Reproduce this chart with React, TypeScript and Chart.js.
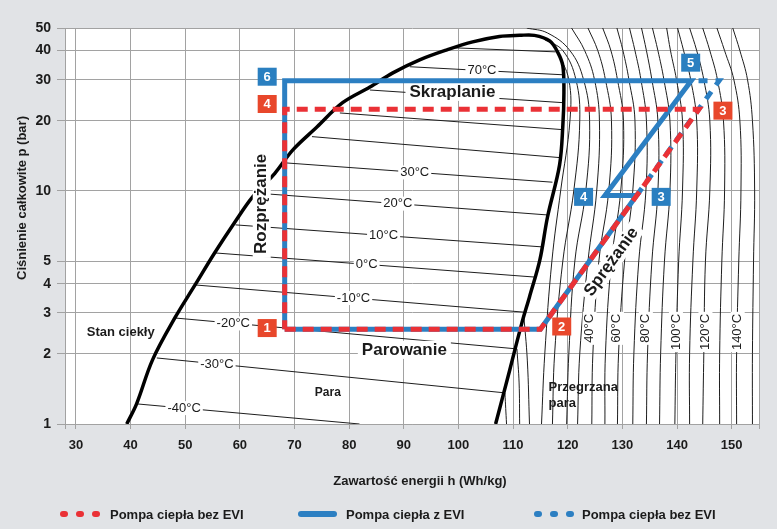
import React, { useEffect, useRef } from 'react';
import { Chart, registerables } from 'chart.js';

Chart.register(...registerables);

const W = 777;
const H = 529;
const FONT = '"Liberation Sans", Arial, Helvetica, sans-serif';
const BG = '#e1e3e6';
const GRID = '#a2a2a2';
const INK = '#1b1b1b';
const RED = '#ea3136';
const BLUE = '#2c7fc2';
const RED_BOX = '#e8472b';
const BLUE_BOX = '#2a7fc0';

// axes
const H_MIN = 28;
const H_MAX = 155;
const H_TICKS = [28, 30, 40, 50, 60, 70, 80, 90, 100, 110, 120, 130, 140, 150, 155];
const P_MIN = 1;
const P_MAX = 50;
const P_TICKS = [1, 2, 3, 4, 5, 10, 20, 30, 40, 50];

// saturation dome (h in Wh/kg, p in bar)
const liquidH = [39.3, 41.1, 44.0, 48.1, 51.8, 55.4, 59.1, 62.3, 66.4, 69.7, 74.1, 78.8, 83.8, 88.0, 92.9, 97.9, 102.6, 107.5];
const liquidP = [1.0, 1.22, 1.88, 2.85, 3.95, 5.43, 7.36, 9.41, 11.9, 15.0, 18.8, 23.9, 27.9, 32.1, 36.5, 40.3, 43.6, 46.0];
const vaporH = [111.2, 113.9, 116.7, 118.2, 119.1, 119.3, 119.1, 118.5, 116.3, 114.9, 113.0, 111.6, 109.4, 106.8];
const vaporP = [46.5, 46.5, 44.0, 39.2, 34.4, 26.4, 19.0, 12.9, 7.73, 5.06, 3.51, 2.71, 1.71, 1.0];

// isotherms across the two-phase region
const isoStartH = [41.1, 44.8, 48.1, 51.8, 55.4, 59.2, 62.7, 68.2, 73.2, 78.3, 83.8, 91.1, 99.3];
const isoStartP = [1.22, 1.92, 2.85, 3.95, 5.42, 7.15, 9.8, 13.2, 17.1, 21.6, 27.1, 34.1, 41.1];
const isoEndH = [81.9, 108.5, 110.7, 111.9, 113.9, 115.4, 116.5, 117.2, 118.5, 119.3, 119.3, 119.1, 117.8];
const isoEndP = [1.0, 1.36, 2.1, 3.02, 4.27, 5.75, 7.88, 10.9, 13.9, 18.3, 23.9, 31.5, 39.5];

// superheated isotherm curves
const ARC_P = [50, 40, 30, 20, 10, 5, 2, 1];
const arcInnerP = [
  [40, 30, 20, 10, 5, 2, 1],
  [44.5, 40, 30, 20, 10, 5, 2, 1],
  [50, 47.6, 40, 30, 20, 10, 5, 2, 1],
];
const arcInnerH = [
  [118.0, 120.2, 120.4, 118.7, 117.1, 115.8, 115.2],
  [115.8, 119.1, 121.5, 122.2, 121.1, 119.1, 117.6, 117.2],
  [112.5, 116.3, 120.4, 122.9, 124.0, 123.3, 121.3, 120.2, 119.8],
];
const arcOuterH = [
  [120.7, 123.1, 124.9, 125.8, 125.3, 123.7, 122.2, 121.8],
  [123.7, 125.5, 126.9, 128.0, 127.5, 125.7, 124.6, 124.4],
  [126.4, 127.9, 129.1, 130.2, 129.7, 128.0, 126.9, 126.8],
  [129.0, 130.1, 131.2, 132.3, 131.9, 130.4, 129.3, 129.1],
  [131.3, 132.3, 133.4, 134.4, 134.3, 133.0, 132.1, 131.9],
  [133.5, 134.4, 135.4, 136.5, 136.5, 135.4, 134.6, 134.4],
  [135.5, 136.5, 137.6, 138.7, 138.7, 137.7, 137.0, 136.8],
  [138.1, 138.8, 139.9, 141.0, 141.0, 140.3, 139.8, 139.6],
  [140.1, 141.2, 142.5, 143.6, 143.6, 142.9, 142.3, 142.3],
  [142.3, 143.6, 144.9, 146.0, 146.0, 145.2, 144.9, 144.7],
  [144.7, 146.0, 147.4, 148.5, 148.7, 148.2, 147.8, 147.8],
  [147.3, 148.7, 150.4, 151.5, 151.7, 151.3, 150.9, 150.9],
  [150.2, 151.5, 152.9, 153.8, 154.2, 154.0, 153.8, 153.8],
];
const shortArcH = [
  [108.5, 108.8],
  [110.7, 111.1, 111.2],
  [111.9, 112.6, 113.0],
];
const shortArcP = [
  [1.36, 1.0],
  [2.1, 1.5, 1.0],
  [3.02, 1.88, 1.0],
];

// heat-pump cycles
const noEviRedH = [68.2, 115.0, 144.0, 68.2, 68.2];
const noEviRedP = [2.55, 2.55, 22.4, 22.4, 2.55];
const eviH = [68.2, 115.0, 132.6, 126.8, 142.6, 68.2, 68.2];
const eviP = [2.55, 2.55, 9.55, 9.55, 29.7, 29.7, 2.55];
const noEviBlueH = [132.6, 147.7, 142.6];
const noEviBlueP = [9.55, 29.7, 29.7];

// numbered state points
const markerText = ['1', '2', '3', '4', '6', '5', '4', '3'];
const markerH = [65.0, 118.9, 148.4, 65.0, 65.0, 142.5, 122.9, 137.1];
const markerP = [2.58, 2.62, 22.1, 23.6, 30.9, 35.5, 9.43, 9.43];
const markerRed = [true, true, true, true, false, false, false, false];

// isotherm labels
const isoLabelText = ['-40°C', '-30°C', '-20°C', '-10°C', '0°C', '10°C', '20°C', '30°C', '70°C'];
const isoLabelH = [49.8, 55.8, 58.8, 80.8, 83.2, 86.3, 88.9, 92.0, 104.3];
const isoLabelP = [1.17, 1.81, 2.7, 3.47, 4.84, 6.44, 8.82, 12.0, 32.8];
const shLabelText = ['40°C', '60°C', '80°C', '100°C', '120°C', '140°C'];
const shLabelH = [124.0, 129.0, 134.3, 139.8, 145.2, 151.1];
const shLabelP = [2.97, 2.97, 2.97, 2.97, 2.97, 2.97];

// process / region labels
const procText = ['Skraplanie', 'Parowanie', 'Rozprężanie', 'Sprężanie'];
const procH = [98.9, 90.1, 64.0, 128.0];
const procP = [26.6, 2.08, 8.8, 4.96];
const procAngle = [0, 0, -90, -54];
const regionText = ['Stan ciekły', 'Para', 'Przegrzana', 'para'];
const regionH = [38.2, 76.1, 116.5, 116.5];
const regionP = [2.46, 1.36, 1.44, 1.23];
const regionSize = [13, 12, 13, 13];
const regionAlign = ['center', 'center', 'left', 'left'];

const legendText = ['Pompa ciepła bez EVI', 'Pompa ciepła z EVI', 'Pompa ciepła bez EVI'];

const xy = (hs: number[], ps: number[]) => hs.map((h, i) => ({ x: h, y: ps[i] }));

function buildDatasets() {
  const thin = (data: any[], tension: number) => ({
    data,
    showLine: true,
    borderColor: '#1e1e1e',
    borderWidth: 1,
    pointRadius: 0,
    tension,
    fill: false,
    order: 5,
  });
  const ds: any[] = [];
  isoStartH.forEach((_, i) => {
    ds.push(thin([{ x: isoStartH[i], y: isoStartP[i] }, { x: isoEndH[i], y: isoEndP[i] }], 0));
  });
  arcInnerH.forEach((hs, i) => ds.push(thin(xy(hs, arcInnerP[i]), 0.4)));
  arcOuterH.forEach((hs) => ds.push(thin(xy(hs, ARC_P), 0.4)));
  shortArcH.forEach((hs, i) => ds.push(thin(xy(hs, shortArcP[i]), 0.4)));
  const domeIndex = ds.length;
  ds.push({
    data: [...xy(liquidH, liquidP), ...xy(vaporH, vaporP)],
    showLine: true,
    borderColor: '#000',
    borderWidth: 3.5,
    pointRadius: 0,
    tension: 0.35,
    fill: false,
    order: 4,
  });
  ds.push({
    data: xy(eviH, eviP),
    showLine: true,
    borderColor: BLUE,
    borderWidth: 5,
    pointRadius: 0,
    tension: 0,
    borderJoinStyle: 'miter',
    fill: false,
    order: 3,
  });
  ds.push({
    data: xy(noEviBlueH, noEviBlueP),
    showLine: true,
    borderColor: BLUE,
    borderWidth: 5,
    borderDash: [9, 8],
    pointRadius: 0,
    tension: 0,
    fill: false,
    order: 2,
  });
  ds.push({
    data: xy(noEviRedH, noEviRedP),
    showLine: true,
    borderColor: RED,
    borderWidth: 5,
    borderDash: [11, 7],
    pointRadius: 0,
    tension: 0,
    fill: false,
    order: 1,
  });
  return { ds, domeIndex };
}

function boxedText(ctx: CanvasRenderingContext2D, text: string, x: number, y: number, angleDeg: number, font: string, padX: number, h: number) {
  ctx.save();
  ctx.translate(x, y);
  ctx.rotate((angleDeg * Math.PI) / 180);
  ctx.font = font;
  const w = ctx.measureText(text).width;
  ctx.fillStyle = '#fff';
  ctx.fillRect(-w / 2 - padX, -h / 2, w + 2 * padX, h);
  ctx.fillStyle = INK;
  ctx.textAlign = 'center';
  ctx.textBaseline = 'middle';
  ctx.fillText(text, 0, 0);
  ctx.restore();
}

export default function App() {
  const ref = useRef<HTMLCanvasElement>(null);

  useEffect(() => {
    const { ds, domeIndex } = buildDatasets();

    const extras = {
      id: 'extras',
      beforeDraw(chart: any) {
        const { ctx, chartArea: a } = chart;
        ctx.save();
        ctx.fillStyle = BG;
        ctx.fillRect(0, 0, chart.width, chart.height);
        ctx.fillStyle = '#fff';
        ctx.fillRect(a.left, a.top, a.right - a.left, a.bottom - a.top);
        ctx.restore();
      },
      afterDatasetDraw(chart: any, args: any) {
        if (args.index !== domeIndex) return;
        const { ctx } = chart;
        const sx = chart.scales.x;
        const sy = chart.scales.y;
        isoLabelText.forEach((t, i) => {
          boxedText(ctx, t, sx.getPixelForValue(isoLabelH[i]), sy.getPixelForValue(isoLabelP[i]), 0, `13px ${FONT}`, 2, 14);
        });
        shLabelText.forEach((t, i) => {
          ctx.save();
          ctx.translate(sx.getPixelForValue(shLabelH[i]), sy.getPixelForValue(shLabelP[i]));
          ctx.rotate(-Math.PI / 2);
          ctx.font = `13px ${FONT}`;
          const w = ctx.measureText(t).width;
          ctx.fillStyle = '#fff';
          ctx.fillRect(-w - 2, -7, w + 4, 14);
          ctx.fillStyle = INK;
          ctx.textAlign = 'right';
          ctx.textBaseline = 'middle';
          ctx.fillText(t, 0, 0);
          ctx.restore();
        });
        procText.forEach((t, i) => {
          boxedText(ctx, t, sx.getPixelForValue(procH[i]), sy.getPixelForValue(procP[i]), procAngle[i], `bold 17px ${FONT}`, 4, 18);
        });
        regionText.forEach((t, i) => {
          ctx.save();
          ctx.font = `bold ${regionSize[i]}px ${FONT}`;
          ctx.fillStyle = INK;
          ctx.textAlign = regionAlign[i] as CanvasTextAlign;
          ctx.textBaseline = 'middle';
          ctx.fillText(t, sx.getPixelForValue(regionH[i]), sy.getPixelForValue(regionP[i]));
          ctx.restore();
        });
      },
      afterDraw(chart: any) {
        const { ctx } = chart;
        const sx = chart.scales.x;
        const sy = chart.scales.y;
        // numbered squares
        markerText.forEach((t, i) => {
          const x = sx.getPixelForValue(markerH[i]);
          const y = sy.getPixelForValue(markerP[i]);
          ctx.save();
          ctx.fillStyle = markerRed[i] ? RED_BOX : BLUE_BOX;
          ctx.fillRect(x - 9.5, y - 9, 19, 18);
          ctx.fillStyle = '#fff';
          ctx.font = `bold 13px ${FONT}`;
          ctx.textAlign = 'center';
          ctx.textBaseline = 'middle';
          ctx.fillText(t, x, y + 0.5);
          ctx.restore();
        });
        // axis titles
        ctx.save();
        ctx.fillStyle = INK;
        ctx.font = `bold 13px ${FONT}`;
        ctx.textAlign = 'center';
        ctx.textBaseline = 'middle';
        ctx.fillText('Zawartość energii h (Wh/kg)', 420, 481);
        ctx.translate(22, 198);
        ctx.rotate(-Math.PI / 2);
        ctx.fillText('Ciśnienie całkowite p (bar)', 0, 0);
        ctx.restore();
        // legend
        const ly = 514;
        ctx.save();
        ctx.lineCap = 'round';
        ctx.lineWidth = 6;
        const dots = (x0: number, color: string) => {
          ctx.strokeStyle = color;
          for (let k = 0; k < 3; k++) {
            ctx.beginPath();
            ctx.moveTo(x0 + k * 16, ly);
            ctx.lineTo(x0 + k * 16 + 2, ly);
            ctx.stroke();
          }
        };
        dots(63, RED);
        ctx.strokeStyle = BLUE;
        ctx.beginPath();
        ctx.moveTo(301, ly);
        ctx.lineTo(334, ly);
        ctx.stroke();
        dots(537, BLUE);
        ctx.fillStyle = INK;
        ctx.font = `bold 13px ${FONT}`;
        ctx.textAlign = 'left';
        ctx.textBaseline = 'middle';
        ctx.fillText(legendText[0], 110, ly + 1);
        ctx.fillText(legendText[1], 346, ly + 1);
        ctx.fillText(legendText[2], 582, ly + 1);
        ctx.restore();
      },
    };

    const chart = new Chart(ref.current as HTMLCanvasElement, {
      type: 'scatter',
      data: { datasets: ds },
      plugins: [extras],
      options: {
        animation: false,
        responsive: false,
        devicePixelRatio: 1,
        events: [],
        layout: { padding: { left: 0, top: 28, right: 18, bottom: 0 } },
        elements: { point: { radius: 0, hoverRadius: 0 } },
        plugins: { legend: { display: false }, tooltip: { enabled: false } },
        scales: {
          x: {
            type: 'linear',
            min: H_MIN,
            max: H_MAX,
            afterBuildTicks: (s: any) => {
              s.ticks = H_TICKS.map((v) => ({ value: v }));
            },
            afterFit: (s: any) => {
              s.height = 105;
            },
            ticks: {
              autoSkip: false,
              maxRotation: 0,
              minRotation: 0,
              padding: 9,
              color: INK,
              font: { family: FONT, size: 13, weight: 'bold' },
              callback: (v: any) => (Number(v) % 10 === 0 ? String(v) : ''),
            },
            grid: { color: GRID, lineWidth: 1, tickLength: 5, drawTicks: true },
            border: { color: GRID, width: 1 },
          },
          y: {
            type: 'logarithmic',
            min: P_MIN,
            max: P_MAX,
            afterBuildTicks: (s: any) => {
              s.ticks = P_TICKS.map((v) => ({ value: v }));
            },
            afterFit: (s: any) => {
              s.width = 65;
            },
            ticks: {
              autoSkip: false,
              padding: 6,
              color: INK,
              font: { family: FONT, size: 14, weight: 'bold' },
              callback: (v: any) => String(v),
            },
            grid: { color: GRID, lineWidth: 1, tickLength: 8, drawTicks: true },
            border: { color: GRID, width: 1 },
          },
        },
      } as any,
    });
    return () => chart.destroy();
  }, []);

  return (
    <div style={{ position: 'fixed', left: 0, top: 0, width: W, height: H, background: BG }}>
      <canvas ref={ref} width={W} height={H} style={{ display: 'block', width: W, height: H }} />
    </div>
  );
}
